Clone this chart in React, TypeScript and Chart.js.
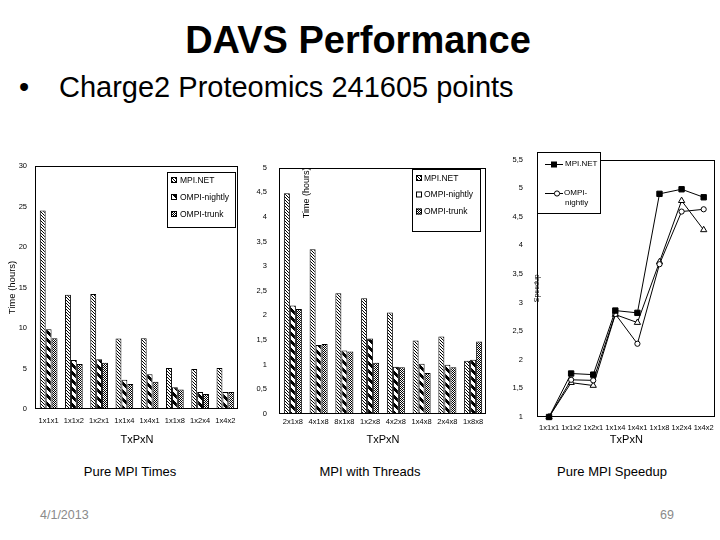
import React, { useEffect, useRef } from 'react';
import { Chart, registerables } from 'chart.js';

Chart.register(...registerables);

const FONT = '"Liberation Sans", Arial, sans-serif';

// ---------- data ----------
const seriesNames = ['MPI.NET', 'OMPI-nightly', 'OMPI-trunk'];

const timeCategories = ['1x1x1', '1x1x2', '1x2x1', '1x1x4', '1x4x1', '1x1x8', '1x2x4', '1x4x2'];
const timeMpiNet = [24.5, 14.1, 14.2, 8.7, 8.75, 5.05, 4.95, 5.05];
const timeOmpiNightly = [9.85, 6.05, 6.15, 3.6, 4.3, 2.7, 2.1, 2.1];
const timeOmpiTrunk = [8.75, 5.55, 5.7, 3.1, 3.35, 2.4, 1.85, 2.1];

const threadCategories = ['2x1x8', '4x1x8', '8x1x8', '1x2x8', '4x2x8', '1x4x8', '2x4x8', '1x8x8'];
const threadMpiNet = [4.48, 3.34, 2.45, 2.35, 2.06, 1.49, 1.57, 1.08];
const threadOmpiNightly = [2.2, 1.4, 1.29, 1.53, 0.96, 1.02, 1.0, 1.1];
const threadOmpiTrunk = [2.13, 1.42, 1.27, 1.04, 0.95, 0.83, 0.95, 1.47];

const speedupCategories = ['1x1x1', '1x1x2', '1x2x1', '1x1x4', '1x4x1', '1x1x8', '1x2x4', '1x4x2'];
const speedupMpiNet = [1, 1.76, 1.74, 2.86, 2.82, 4.9, 4.98, 4.84];
const speedupOmpiNightly = [1, 1.65, 1.64, 2.8, 2.28, 3.67, 4.59, 4.63];
const speedupOmpiTrunk = [1, 1.6, 1.55, 2.79, 2.65, 3.71, 4.78, 4.27];

const timeAxis = { min: 0, max: 30, step: 5 };
const threadAxis = { min: 0, max: 5, step: 0.5 };
const speedupAxis = { min: 1, max: 5.5, step: 0.5 };

// ---------- helpers ----------
function makePattern(kind: 'light' | 'bold' | 'check'): any {
  const c = document.createElement('canvas');
  const size = kind === 'bold' ? 8 : kind === 'light' ? 3 : 2;
  c.width = size;
  c.height = size;
  const g = c.getContext('2d')!;
  g.fillStyle = '#fff';
  g.fillRect(0, 0, size, size);
  g.fillStyle = '#000';
  if (kind === 'light') {
    for (let y = 0; y < size; y++) g.fillRect(y % size, y, 1, 1);
  } else if (kind === 'bold') {
    for (let y = 0; y < size; y++) for (let k = 0; k < 4; k++) g.fillRect((y + k) % size, y, 1, 1);
  } else {
    g.fillRect(0, 0, 1, 1);
    g.fillRect(1, 1, 1, 1);
  }
  return g.createPattern(c, 'repeat');
}

const comma = (v: any) => String(v).replace('.', ',');

const framePlugin = {
  id: 'frame',
  afterDatasetsDraw(chart: any) {
    const { ctx, chartArea: a } = chart;
    ctx.save();
    ctx.strokeStyle = '#000';
    ctx.lineWidth = 1;
    const l = Math.round(a.left) - 0.5;
    const t = Math.round(a.top) + 0.5;
    const r = Math.round(a.right) - 0.5;
    const b = Math.round(a.bottom) - 0.5;
    ctx.strokeRect(l, t, r - l, b - t);
    ctx.restore();
  },
};

function drawMarker(ctx: CanvasRenderingContext2D, style: string, x: number, y: number) {
  ctx.save();
  ctx.strokeStyle = '#000';
  ctx.lineWidth = 1;
  if (style === 'rect') {
    ctx.fillStyle = '#000';
    ctx.fillRect(x - 3, y - 3, 6, 6);
  } else if (style === 'circle') {
    ctx.fillStyle = '#fff';
    ctx.beginPath();
    ctx.arc(x, y, 2.6, 0, Math.PI * 2);
    ctx.fill();
    ctx.stroke();
  } else {
    ctx.fillStyle = '#fff';
    ctx.beginPath();
    ctx.moveTo(x, y - 3.5);
    ctx.lineTo(x + 3.5, y + 2.5);
    ctx.lineTo(x - 3.5, y + 2.5);
    ctx.closePath();
    ctx.fill();
    ctx.stroke();
  }
  ctx.restore();
}

const boxLegendPlugin = {
  id: 'boxLegend',
  afterDraw(chart: any, _args: any, opts: any) {
    if (!opts || !opts.box) return;
    const ctx = chart.ctx as CanvasRenderingContext2D;
    const [bx, by, bw, bh] = opts.box;
    ctx.save();
    ctx.fillStyle = '#fff';
    ctx.fillRect(bx, by, bw, bh);
    ctx.strokeStyle = '#000';
    ctx.lineWidth = 1;
    ctx.strokeRect(bx + 0.5, by + 0.5, bw, bh);
    ctx.font = `${opts.fontSize}px ${FONT}`;
    ctx.textBaseline = 'middle';
    ctx.textAlign = 'left';
    opts.rows.forEach((row: any) => {
      const ds = chart.data.datasets[row.index];
      if (opts.kind === 'bar') {
        ctx.fillStyle = row.plain ? '#fff' : ds.backgroundColor;
        ctx.fillRect(row.swatchX, row.y - 3, 6, 6);
        ctx.strokeStyle = '#000';
        ctx.strokeRect(row.swatchX + 0.5, row.y - 2.5, 5, 5);
        ctx.fillStyle = '#000';
        ctx.fillText(ds.label, row.textX, row.y + 0.5);
      } else {
        ctx.strokeStyle = '#000';
        ctx.lineWidth = 1;
        ctx.beginPath();
        ctx.moveTo(row.lineX1, Math.round(row.y) + 0.5);
        ctx.lineTo(row.lineX2, Math.round(row.y) + 0.5);
        ctx.stroke();
        drawMarker(ctx, ds.pointStyle, row.markerX, Math.round(row.y) + 0.5);
        ctx.fillStyle = '#000';
        const lines: string[] = row.lines || [ds.label];
        const gap = row.gap || 0;
        lines.forEach((t, i) => ctx.fillText(t, row.textX + (i ? 1 : 0), row.y + i * gap));
      }
    });
    ctx.restore();
  },
};

const tickFont = (size: number) => ({ family: FONT, size });

function barConfig(
  categories: string[],
  values: number[][],
  axis: { min: number; max: number; step: number },
  layout: any,
  yTitle: any,
  legend: any,
  yFormat: (v: any) => string,
) {
  const pats = [makePattern('light'), makePattern('bold'), makePattern('check')];
  return {
    type: 'bar',
    data: {
      labels: categories,
      datasets: values.map((vals, i) => ({
        label: seriesNames[i],
        data: vals,
        backgroundColor: pats[i],
        borderColor: '#000',
        borderWidth: 1,
        barPercentage: 1,
        categoryPercentage: 0.7,
      })),
    },
    options: {
      animation: false,
      responsive: false,
      layout: { padding: layout.padding },
      plugins: {
        legend: { display: false },
        tooltip: { enabled: false },
        boxLegend: legend,
      },
      scales: {
        x: {
          grid: { display: false, drawTicks: false },
          border: { display: false },
          ticks: { font: tickFont(7.5), color: '#000', padding: layout.xPad, maxRotation: 0, autoSkip: false },
          title: { display: true, text: 'TxPxN', font: { family: FONT, size: 11 }, color: '#000', padding: { top: 0, bottom: 3.4 } },
          afterFit: (s: any) => { s.height = layout.xHeight; },
        },
        y: {
          min: axis.min,
          max: axis.max,
          grid: { display: false, drawTicks: false },
          border: { display: false },
          ticks: { stepSize: axis.step, font: tickFont(7.5), color: '#000', padding: layout.yPad, callback: yFormat },
          title: yTitle,
          afterFit: (s: any) => { s.width = layout.yWidth; },
        },
      },
    },
    plugins: [framePlugin, boxLegendPlugin],
  };
}

function timeConfig() {
  return barConfig(
    timeCategories,
    [timeMpiNet, timeOmpiNightly, timeOmpiTrunk],
    timeAxis,
    { padding: { top: 16, right: 12, left: 0, bottom: 0 }, xPad: 7, yPad: 9, xHeight: 41, yWidth: 36 },
    { display: true, text: 'Time (hours)', font: { family: FONT, size: 9.5 }, color: '#000', padding: { top: 6.3, bottom: 0 } },
    {
      kind: 'bar',
      box: [167, 22, 68, 55],
      fontSize: 8.5,
      rows: [
        { index: 0, y: 30, swatchX: 171, textX: 180 },
        { index: 1, y: 47, swatchX: 171, textX: 180 },
        { index: 2, y: 64, swatchX: 171, textX: 180 },
      ],
    },
    (v: any) => String(v),
  );
}

function threadConfig() {
  return barConfig(
    threadCategories,
    [threadMpiNet, threadOmpiNightly, threadOmpiTrunk],
    threadAxis,
    { padding: { top: 16, right: 14, left: 0, bottom: 0 }, xPad: 3, yPad: 13, xHeight: 36, yWidth: 30 },
    { display: true, text: 'Time (hours)', align: 'end', font: { family: FONT, size: 9 }, color: '#000', padding: { top: 51.6, bottom: 0 } },
    {
      kind: 'bar',
      box: [162, 19, 68, 62],
      fontSize: 8.5,
      rows: [
        { index: 0, y: 28, swatchX: 166, textX: 174 },
        { index: 1, y: 44.5, swatchX: 166, textX: 174, plain: true },
        { index: 2, y: 61.5, swatchX: 166, textX: 174 },
      ],
    },
    comma,
  );
}

function speedupConfig() {
  const series = [speedupMpiNet, speedupOmpiNightly, speedupOmpiTrunk];
  const styles = ['rect', 'circle', 'triangle'];
  const radii = [3.8, 2.6, 3.6];
  return {
    type: 'line',
    data: {
      labels: speedupCategories,
      datasets: series.map((vals, i) => ({
        label: seriesNames[i],
        data: vals,
        borderColor: '#000',
        borderWidth: 1,
        backgroundColor: i === 0 ? '#000' : '#fff',
        pointStyle: styles[i],
        pointRadius: radii[i],
        pointBorderWidth: 1,
        pointBorderColor: '#000',
        pointBackgroundColor: i === 0 ? '#000' : '#fff',
        tension: 0,
        clip: false,
      })),
    },
    options: {
      animation: false,
      responsive: false,
      layout: { padding: { top: 10, right: 3, left: 0, bottom: 0 } },
      plugins: {
        legend: { display: false },
        tooltip: { enabled: false },
        boxLegend: {
          kind: 'line',
          box: [37, 12, 63, 61],
          fontSize: 8,
          rows: [
            { index: 0, y: 24, lineX1: 45, lineX2: 63, markerX: 54, textX: 65 },
            { index: 1, y: 53, lineX1: 45, lineX2: 63, markerX: 57, textX: 64, lines: ['OMPI-', 'nightly'], gap: 10 },
          ],
        },
      },
      scales: {
        x: {
          offset: true,
          grid: { display: false, drawTicks: false },
          border: { display: false },
          ticks: { font: tickFont(7.5), color: '#000', padding: 6, maxRotation: 0, minRotation: 0, autoSkip: false },
          title: { display: true, text: 'TxPxN', font: { family: FONT, size: 11 }, color: '#000', padding: { top: 0, bottom: 3.4 } },
          afterFit: (s: any) => { s.height = 33; },
        },
        y: {
          min: speedupAxis.min,
          max: speedupAxis.max,
          grid: { display: false, drawTicks: false },
          border: { display: false },
          ticks: { stepSize: speedupAxis.step, font: tickFont(7.5), color: '#000', padding: 15, callback: comma },
          title: { display: true, text: 'Speedup', font: { family: FONT, size: 7 }, color: '#000', padding: { top: 32.8, bottom: 0 } },
          afterFit: (s: any) => { s.width = 38; },
        },
      },
    },
    plugins: [framePlugin, boxLegendPlugin],
  };
}

function ChartBox(props: { left: number; top: number; width: number; height: number; make: () => any }) {
  const ref = useRef<HTMLCanvasElement>(null);
  useEffect(() => {
    const chart = new Chart(ref.current as HTMLCanvasElement, props.make());
    return () => chart.destroy();
  }, []);
  return (
    <canvas
      ref={ref}
      width={props.width}
      height={props.height}
      style={{ position: 'absolute', left: props.left, top: props.top, width: props.width, height: props.height }}
    />
  );
}

const textStyle = (extra: any): any => ({
  position: 'absolute',
  fontFamily: FONT,
  color: '#000',
  whiteSpace: 'nowrap',
  ...extra,
});

export default function App() {
  return (
    <div style={{ position: 'absolute', left: 0, top: 0, width: 720, height: 540, background: '#fff', overflow: 'hidden' }}>
      <div style={textStyle({ left: 0, top: 21, width: 716, textAlign: 'center', fontSize: 38, fontWeight: 'bold', lineHeight: '38px' })}>
        DAVS Performance
      </div>
      <div style={textStyle({ left: 19, top: 73, fontSize: 29, lineHeight: '29px' })}>•</div>
      <div style={textStyle({ left: 59, top: 73, fontSize: 29, lineHeight: '29px' })}>Charge2 Proteomics 241605 points</div>

      <ChartBox left={0} top={150} width={250} height={300} make={timeConfig} />
      <ChartBox left={250} top={150} width={250} height={300} make={threadConfig} />
      <ChartBox left={500} top={140} width={220} height={310} make={speedupConfig} />

      <div style={textStyle({ left: 30, top: 464, width: 200, textAlign: 'center', fontSize: 13, lineHeight: '16px' })}>Pure MPI Times</div>
      <div style={textStyle({ left: 270, top: 464, width: 200, textAlign: 'center', fontSize: 13, lineHeight: '16px' })}>MPI with Threads</div>
      <div style={textStyle({ left: 512, top: 464, width: 200, textAlign: 'center', fontSize: 13, lineHeight: '16px' })}>Pure MPI Speedup</div>

      <div style={textStyle({ left: 40, top: 507, fontSize: 12.5, lineHeight: '16px', color: '#8a8a8a' })}>4/1/2013</div>
      <div style={textStyle({ left: 660, top: 507, fontSize: 12.5, lineHeight: '16px', color: '#8a8a8a' })}>69</div>
    </div>
  );
}
